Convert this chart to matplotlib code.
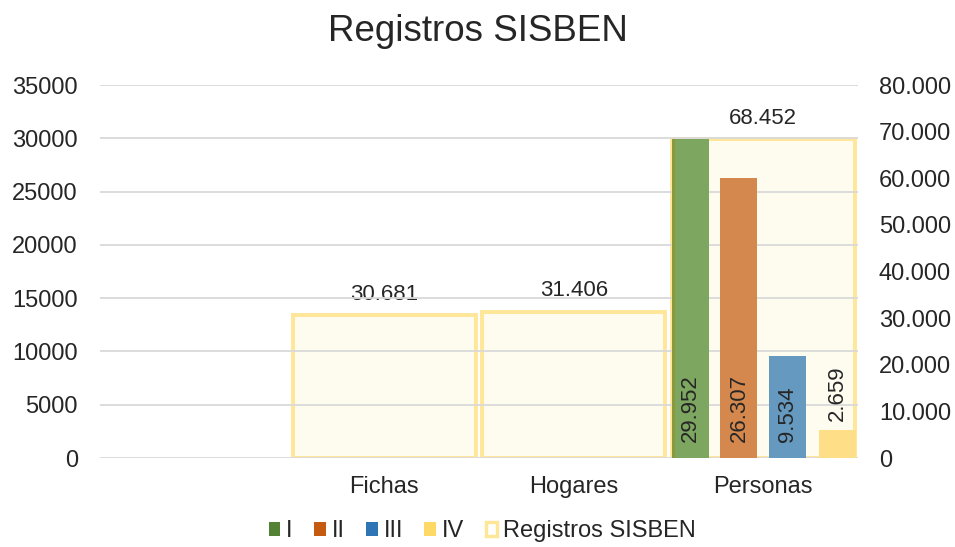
import numpy as np
import matplotlib
matplotlib.use("Agg")
import matplotlib.pyplot as plt
from matplotlib.patches import Patch

plt.rcParams['font.family'] = ['Liberation Sans', 'DejaVu Sans']

# datos
categorias = ["", "Fichas", "Hogares", "Personas"]
registros = [np.nan, 30681, 31406, 68452]
niveles = ["I", "II", "III", "IV"]
personas_niveles = [29952, 26307, 9534, 2659]

colores_barra = ["#7DA660", "#D5884D", "#6699BF", "#FEDF88"]
colores_leyenda = ["#548235", "#C55A11", "#2E75B6", "#FFD966"]
desplaz = [-0.386, -0.128, 0.126, 0.39]


def miles(v):
    return f"{v:,.0f}".replace(",", ".")


fig = plt.figure(figsize=(9.55, 5.47), dpi=100)
ax = fig.add_axes([0.1047, 0.1627, 0.7937, 0.6819])
ax2 = ax.twinx()
ax.set_zorder(ax2.get_zorder() + 1)
ax.patch.set_visible(False)

x = np.arange(len(categorias))

# Registros SISBEN (eje secundario)
for xi, v in zip(x, registros):
    if np.isnan(v):
        continue
    ax2.bar(xi, v, width=0.965, color="#FEFBEF", edgecolor="#FFE699", linewidth=2.8, zorder=1)
    ax2.text(xi, v + 2200, miles(v), ha="center", va="bottom", fontsize=16, color="#262626")

# niveles en Personas (eje principal)
xp = x[categorias.index("Personas")]
for i, v in enumerate(personas_niveles):
    ax.bar(xp + desplaz[i], v, width=0.195, color=colores_barra[i], zorder=3)
    if v > 5000:
        ax.text(xp + desplaz[i], 1500, miles(v), rotation=90, ha="center", va="bottom",
                fontsize=16, color="#262626", zorder=4)
    else:
        ax.text(xp + desplaz[i], v + 850, miles(v), rotation=90, ha="center", va="bottom",
                fontsize=16, color="#262626", zorder=4)
# borde izquierdo más oscuro de la barra I
ax.bar(xp + desplaz[0] - 0.0975 + 0.008, personas_niveles[0], width=0.016,
       color="#8A9A3A", zorder=3)

ax.set_xlim(-0.5, len(categorias) - 0.5)
ax.set_ylim(0, 35000)
ax2.set_ylim(0, 80000)
ax.set_yticks(np.arange(0, 35001, 5000))
ax.set_yticklabels([f"{int(t)}" for t in np.arange(0, 35001, 5000)])
ax2.set_yticks(np.arange(0, 80001, 10000))
ax2.set_yticklabels([miles(t) for t in np.arange(0, 80001, 10000)])
ax.set_xticks(x)
ax.set_xticklabels(categorias)

ax.set_axisbelow(True)
ax.grid(axis="y", color="#D9D9D9", linewidth=1.3)
for a in (ax, ax2):
    for s in a.spines.values():
        s.set_visible(False)
    a.tick_params(length=0, labelsize=17, colors="#262626")
ax.tick_params(axis="x", labelsize=17, pad=13)
ax.tick_params(axis="y", pad=16)
ax2.tick_params(axis="y", pad=15)

fig.suptitle("Registros SISBEN", fontsize=26.5, color="#262626", y=0.975)

handles = [Patch(facecolor=c, edgecolor="none") for c in colores_leyenda]
handles.append(Patch(facecolor="white", edgecolor="#FFE699", linewidth=2.5))
fig.legend(handles, niveles + ["Registros SISBEN"], loc="lower center",
           bbox_to_anchor=(0.505, -0.03), ncol=5, frameon=False, fontsize=17,
           handlelength=0.5, handleheight=0.5, handletextpad=0.25, columnspacing=0.9,
           labelcolor="#262626")

fig.savefig("out.png", dpi=100)
